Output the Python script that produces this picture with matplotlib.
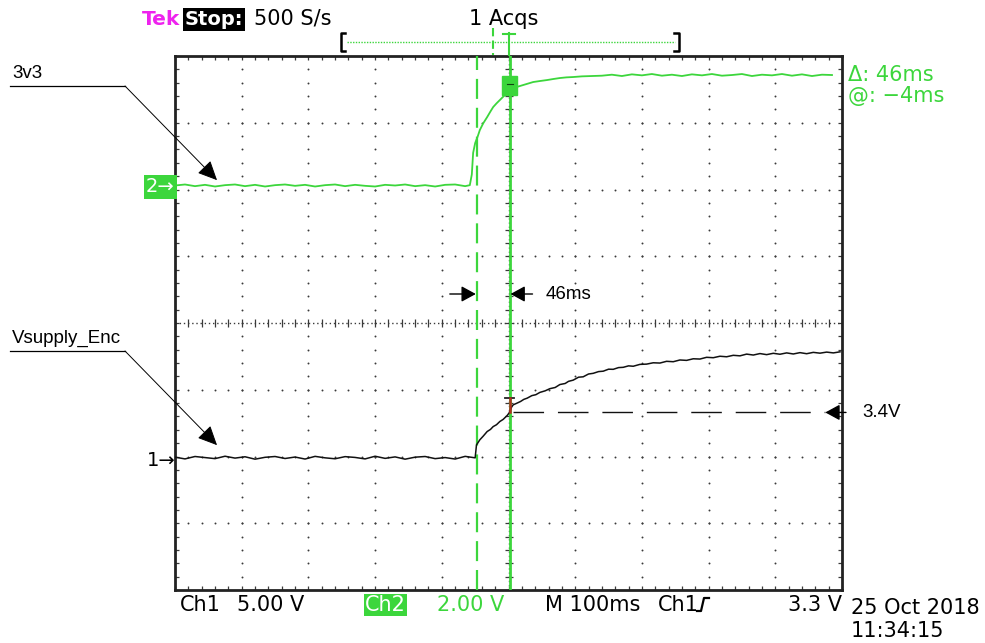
import numpy as np
import matplotlib
matplotlib.use('Agg')
import matplotlib.pyplot as plt
from matplotlib.transforms import Affine2D
from matplotlib.patches import Rectangle
from matplotlib.lines import Line2D

# Channel 2 (3v3 rail), volts vs time in ms
ch2_t = [-500, -485, -470, -455, -440, -425, -410, -395, -380, -365,
         -350, -335, -320, -305, -290, -275, -260, -245, -230, -215,
         -200, -185, -170, -155, -140, -125, -110, -95, -80, -65,
         -58, -55, -53, -50, -46, -43, -38, -32, -27, -23,
         -18, -13, -8, -2, 2, 7, 12, 17, 27, 37,
         47, 58, 67, 77, 87, 97, 110, 125,
         140, 155, 170, 185, 200, 215, 230, 245, 260, 275,
         290, 305, 320, 335, 350, 365, 380, 395, 410, 425,
         440, 455, 470, 485]
ch2_v = [0.02, 0.05, 0.00, 0.04, -0.01, 0.03, 0.05, 0.00, 0.04, -0.01,
         0.03, 0.05, 0.01, 0.04, -0.01, 0.03, 0.05, 0.00, 0.04, 0.01,
         -0.01, 0.04, 0.02, 0.05, 0.00, 0.03, -0.01, 0.04, 0.05, 0.00,
         0.03, 0.35, 1.00, 1.29, 1.50, 1.68, 1.88, 2.07, 2.24, 2.37,
         2.48, 2.58, 2.68, 2.79, 2.86, 2.94, 2.97, 3.00, 3.06, 3.12,
         3.15, 3.18, 3.21, 3.24, 3.26, 3.27, 3.29, 3.30,
         3.31, 3.34, 3.30, 3.35, 3.32, 3.36, 3.31, 3.34, 3.30, 3.35,
         3.32, 3.36, 3.31, 3.33, 3.36, 3.30, 3.34, 3.32, 3.36, 3.31,
         3.35, 3.30, 3.34, 3.33]

# Channel 1 (Vsupply_Enc), volts vs time in ms
ch1_t = [-500, -485, -470, -455, -440, -425, -410, -395, -380, -365,
         -350, -335, -320, -305, -290, -275, -260, -245, -230, -215,
         -200, -185, -170, -155, -140, -125, -110, -95, -80, -65,
         -50,
         -48, -46, -43, -38, -32, -27, -23, -18, -13, -8,
         -2, 1, 4, 7, 12, 18, 23, 28, 35, 41,
         47, 55, 62, 70, 77, 85, 90, 97, 105, 112,
         120, 127, 135, 142, 150, 157, 165, 172, 180, 187,
         197,
         207, 217, 227, 237, 247, 257, 267, 277, 287, 297,
         307, 317, 327, 337, 347, 357, 367, 377, 387, 397,
         407, 417, 427, 437, 447, 457, 467, 477, 487, 497]
ch1_v = [0.05, -0.08, 0.10, 0.02, -0.06, 0.12, -0.02, 0.08, -0.10, 0.04,
         0.10, -0.05, 0.06, -0.09, 0.11, 0.00, -0.07, 0.09, 0.03, -0.08,
         0.12, -0.04, 0.07, -0.10, 0.05, 0.10, -0.06, 0.02, -0.09, 0.11,
         0.00,
         0.97, 1.12, 1.35, 1.62, 1.97, 2.13, 2.34, 2.48, 2.72, 2.88,
         3.17, 3.37, 3.75, 3.97, 4.08, 4.22, 4.38, 4.47, 4.66, 4.73,
         4.90, 5.02, 5.18, 5.27, 5.49, 5.57, 5.73, 5.82, 6.04, 6.07,
         6.28, 6.33, 6.46, 6.49, 6.64, 6.63, 6.76, 6.78, 6.89, 6.86,
         7.00,
         7.02, 7.12, 7.10, 7.23, 7.20, 7.33, 7.30, 7.42, 7.40, 7.53,
         7.50, 7.61, 7.57, 7.68, 7.64, 7.77, 7.70, 7.81, 7.73, 7.83,
         7.76, 7.86, 7.78, 7.88, 7.80, 7.90, 7.84, 7.92, 7.86, 7.94]

ch1_scale = 5.0      # V/div
ch2_scale = 2.0      # V/div
ch1_offset = -2.02   # divisions
ch2_offset = 2.05    # divisions
cursor_a = -47       # ms (dashed)
cursor_b = 2         # ms (solid)
level_34 = 3.4       # V on ch1

GREEN = '#3cd63c'
DOT = '#3a3a3a'

fig = plt.figure(figsize=(9.85, 6.43), dpi=100)
W, H = 985, 643
pix = Affine2D().scale(1.0 / W, -1.0 / H).translate(0, 1) + fig.transFigure

ax = fig.add_axes([175 / W, 1 - 590 / H, (842 - 175) / W, (590 - 56) / H])
ax.set_xlim(-500, 500)
ax.set_ylim(-4, 4)
for s in ax.spines.values():
    s.set_linewidth(2.0)
    s.set_color('#222222')
ax.set_xticks(np.arange(-500, 501, 100))
ax.set_xticks(np.arange(-500, 501, 20), minor=True)
ax.set_yticks(np.arange(-4, 4.01, 1))
ax.set_yticks(np.arange(-4, 4.01, 0.2), minor=True)
ax.tick_params(which='both', direction='in', length=3, width=0.9, color=DOT,
               top=True, right=True, labelbottom=False, labelleft=False)

# graticule dots
xs_minor = np.arange(-500, 500.1, 20)
ys_minor = np.arange(-4, 4.001, 0.2)
for xm in range(-400, 401, 100):
    if xm == 0:
        continue
    ax.plot(np.full_like(ys_minor, xm), ys_minor, ls='none', marker='o', ms=1.4,
            mew=0, color=DOT, zorder=1)
for ym in range(-3, 4):
    if ym == 0:
        continue
    ax.plot(xs_minor, np.full_like(xs_minor, ym), ls='none', marker='o', ms=1.4,
            mew=0, color=DOT, zorder=1)
# centre cross-hair
ax.plot([-500, 500], [0, 0], ls=(0, (1, 2)), lw=1.0, color=DOT, zorder=1)
ax.plot(xs_minor, np.zeros_like(xs_minor), ls='none', marker='|', ms=6, mew=0.9, color=DOT, zorder=1)
ax.plot([0, 0], [-4, 4], ls=(0, (1, 2)), lw=1.0, color=DOT, zorder=1)
ax.plot(np.zeros_like(ys_minor), ys_minor, ls='none', marker='_', ms=6, mew=0.9, color=DOT, zorder=1)

# traces
ch2_y = np.array(ch2_v) / ch2_scale + ch2_offset
ch1_y = np.array(ch1_v) / ch1_scale + ch1_offset
ax.plot(ch2_t, ch2_y, color=GREEN, lw=1.3, zorder=4)
ax.plot(ch1_t, ch1_y, color='#111111', lw=1.1, zorder=4)

# cursors
ax.axvline(cursor_a, color=GREEN, lw=1.6, ls=(0, (9, 4)), zorder=3)
ax.axvline(cursor_b, color=GREEN, lw=2.0, zorder=3)
ax.add_patch(Rectangle((-10, 3.42), 23, 0.28, facecolor=GREEN, edgecolor=GREEN, zorder=5))
ax.plot([-2, 6], [3.58, 3.58], color='#114411', lw=0.8, zorder=6)

# trigger marker
y_trig = level_34 / ch1_scale + ch1_offset
ax.plot([-5, 8], [-1.12, -1.12], color='#222222', lw=1.3, zorder=6)
ax.plot([2, 2], [-1.12, y_trig], color='#b03020', lw=1.8, zorder=6)

# 46ms arrows
arr = dict(arrowstyle='-|>,head_length=0.55,head_width=0.3', mutation_scale=16,
           color='black', lw=1.0, shrinkA=0, shrinkB=0)
y_arr = (323 - 294) / 66.75
ax.annotate('', xy=(cursor_a - 2, y_arr), xytext=(-88, y_arr), arrowprops=arr, zorder=7)
ax.annotate('', xy=(cursor_b + 1, y_arr), xytext=(36, y_arr), arrowprops=arr, zorder=7)
ax.text(55, y_arr, '46ms', fontsize=13.5, family='Liberation Sans', va='center', ha='left', zorder=7)

# 3.4 V level
ax.plot([cursor_b + 4, 475], [y_trig, y_trig], color='#111111', lw=1.0, ls=(0, (22, 10)), zorder=5)
ax.annotate('', xy=(475, y_trig), xytext=(506, y_trig), arrowprops=arr, annotation_clip=False, zorder=7)
ax.text(530, y_trig, '3.4V', fontsize=13.5, family='Liberation Sans', va='center', ha='left', clip_on=False)

# signal name callouts
call = dict(arrowstyle='-|>,head_length=0.6,head_width=0.28', mutation_scale=20,
            color='black', lw=0.7, shrinkA=0, shrinkB=0)
for name, ty, tip in [('3v3', 86, (-437, 2.14)), ('Vsupply_Enc', 351, (-437, -1.83))]:
    fig.add_artist(Line2D([10, 125], [ty, ty], transform=pix, color='black', lw=0.9))
    ax.annotate('', xy=tip, xycoords='data', xytext=(125, ty), textcoords=pix,
                arrowprops=call, annotation_clip=False)
    fig.text(12, ty - 8, name, transform=pix, fontsize=13.5, family='Liberation Sans',
             ha='left', va='baseline')

# channel ground markers
fig.text(146, 187, '2\u2192', transform=pix, fontsize=14, color='white', ha='left', va='center',
         family='DejaVu Sans', bbox=dict(facecolor=GREEN, edgecolor='none', pad=1.5))
fig.text(147, 460, '1\u2192', transform=pix, fontsize=14, color='black', ha='left', va='center',
         family='DejaVu Sans')

# header
fig.text(142, 25, 'Tek', transform=pix, fontsize=14.5, weight='bold', color='#ee22ee',
         family='DejaVu Sans', va='baseline')
fig.text(185, 25, 'Stop:', transform=pix, fontsize=14, weight='bold', color='white',
         family='DejaVu Sans', va='baseline',
         bbox=dict(facecolor='black', edgecolor='none', pad=1.2))
fig.text(254, 25, '500 S/s', transform=pix, fontsize=15, color='black',
         family='DejaVu Sans', va='baseline')
fig.text(469, 25, '1 Acqs', transform=pix, fontsize=15, color='black',
         family='DejaVu Sans', va='baseline')

# record view bar
fig.add_artist(Line2D([347, 675], [42, 42], transform=pix, color=GREEN, lw=1.0, ls=(0, (1, 1))))
fig.add_artist(Line2D([345, 341, 341, 345], [33, 33, 51, 51], transform=pix, color='black', lw=1.8))
fig.add_artist(Line2D([674, 679, 679, 674], [33, 33, 51, 51], transform=pix, color='black', lw=1.8))
fig.add_artist(Line2D([493, 493], [28, 55], transform=pix, color=GREEN, lw=1.5, ls=(0, (4, 2))))
fig.add_artist(Line2D([509, 509], [33, 55], transform=pix, color=GREEN, lw=1.5))
fig.add_artist(Line2D([503, 515], [34, 34], transform=pix, color=GREEN, lw=1.5))

# cursor readouts
fig.text(848, 81, '\u0394: 46ms', transform=pix, fontsize=15, color=GREEN,
         family='DejaVu Sans', va='baseline')
fig.text(848, 102, '@: \u22124ms', transform=pix, fontsize=15, color=GREEN,
         family='DejaVu Sans', va='baseline')

# bottom status line
bkw = dict(transform=pix, fontsize=15, family='DejaVu Sans', va='baseline')
fig.text(180, 611, 'Ch1', color='black', **bkw)
fig.text(237, 611, '5.00 V', color='black', **bkw)
fig.text(365, 611, 'Ch2', color='white', bbox=dict(facecolor=GREEN, edgecolor='none', pad=1.0), **bkw)
fig.text(437, 611, '2.00 V', color=GREEN, **bkw)
fig.text(545, 611, 'M 100ms', color='black', **bkw)
fig.text(658, 611, 'Ch1', color='black', **bkw)
fig.add_artist(Line2D([697, 701, 704, 709], [611, 611, 598, 598], transform=pix, color='black', lw=1.6))
fig.text(788, 611, '3.3 V', color='black', **bkw)
fig.text(851, 614, '25 Oct 2018', color='black', **bkw)
fig.text(851, 637, '11:34:15', color='black', **bkw)

fig.savefig('out.png', dpi=100)
